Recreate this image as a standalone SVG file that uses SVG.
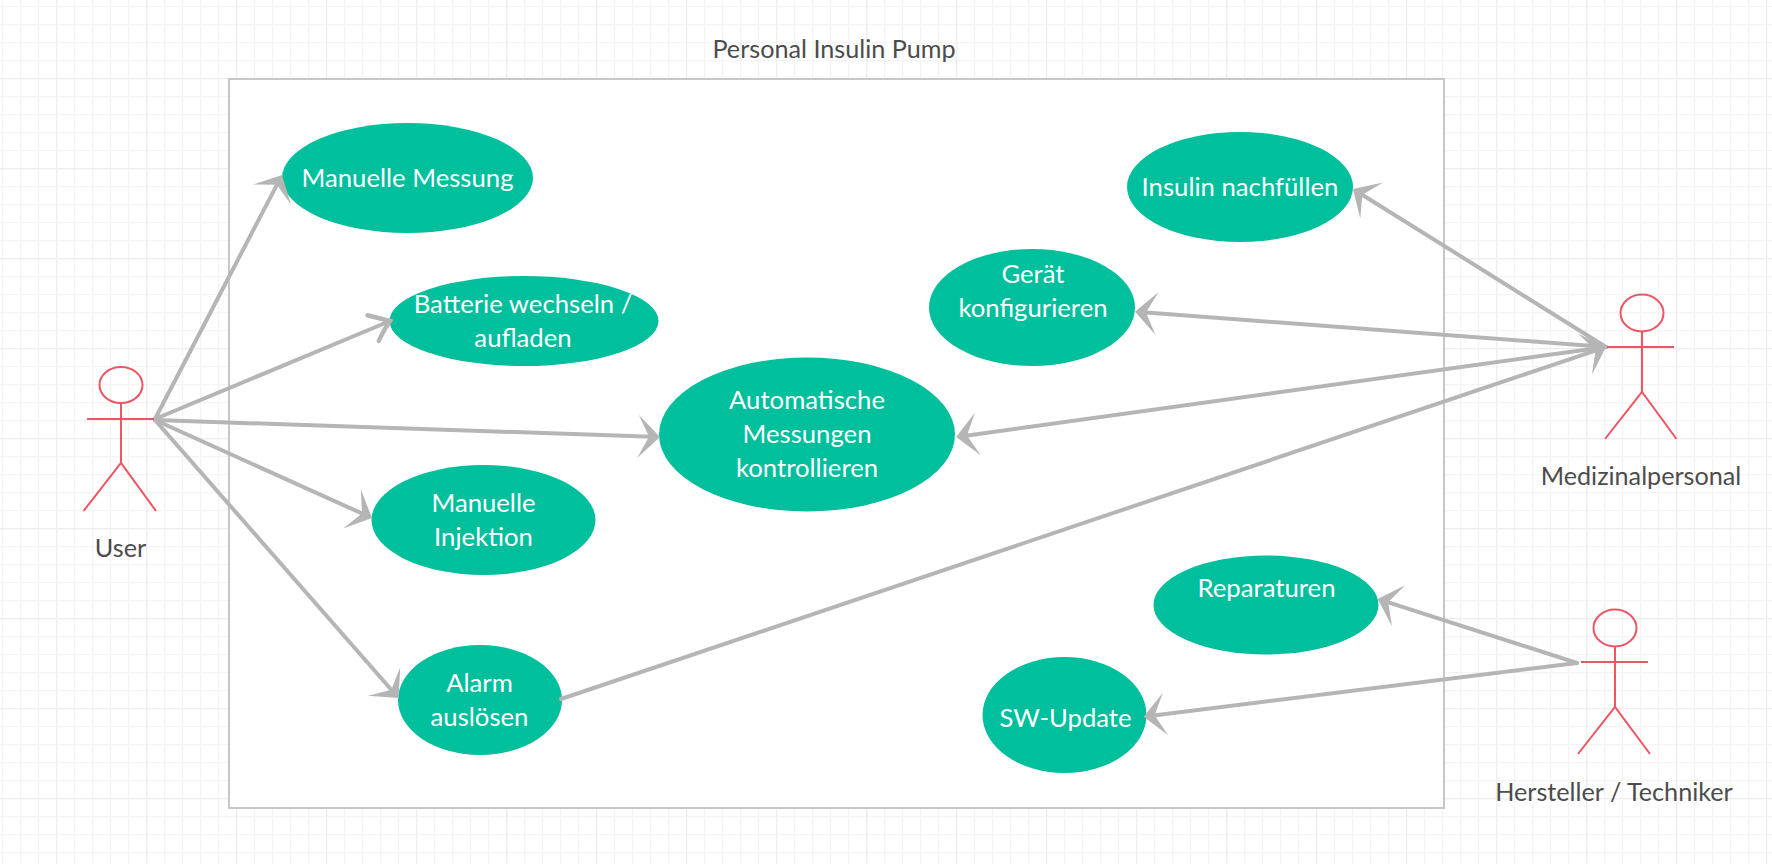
<svg xmlns="http://www.w3.org/2000/svg" width="1772" height="864" viewBox="0 0 1772 864">
<style>
text{font-family:Lato,"Open Sans","Liberation Sans",sans-serif;text-anchor:middle}
.uc{fill:#00bf9c}
.uc text{fill:#fff;font-size:25.7px}
.lbl{fill:#4c4c4c;font-size:25.2px}
.actor *{fill:none;stroke:#ed5565;stroke-width:2}
#connectors line{stroke:#b5b5b5;stroke-width:4;stroke-linecap:round}
.m{marker-end:url(#stealth)}
</style>
<defs>
<pattern id="minor" width="18" height="18" patternUnits="userSpaceOnUse" x="2" y="6"><path d="M0.5 0V18M0 0.5H18" fill="none" stroke="#f4f4f4" stroke-width="1.5"/></pattern>
<pattern id="major" width="90" height="90" patternUnits="userSpaceOnUse" x="56" y="78"><path d="M0.5 0V90M0 0.5H90" fill="none" stroke="#eee" stroke-width="1.5"/></pattern>
<marker id="stealth" markerUnits="userSpaceOnUse" markerWidth="50" markerHeight="50" refX="0" refY="0" orient="auto" overflow="visible"><path d="M8 0L-14 -21.5L-3 0L-14 21.5Z" fill="#b5b5b5"/></marker>
<marker id="curved" markerUnits="userSpaceOnUse" markerWidth="50" markerHeight="50" refX="0" refY="0" orient="auto" overflow="visible"><path d="M-18.5 -14Q-8 -6 0 0Q-8 5 -18 14" fill="none" stroke="#b5b5b5" stroke-width="4.5" stroke-linecap="round"/></marker>
</defs>
<rect id="bg" width="1772" height="864" fill="#fff"/>
<rect width="1772" height="864" fill="url(#minor)"/>
<rect width="1772" height="864" fill="url(#major)"/>
<g id="system">
<rect x="229" y="79" width="1215" height="729" fill="#fff" stroke="#c7c7c7" stroke-width="2"/>
<text class="lbl" x="834" y="58">Personal Insulin Pump</text>
</g>
<g id="uc-manuelle-messung" class="uc"><ellipse cx="407.5" cy="178" rx="125.5" ry="55"/><text x="407.5" y="187">Manuelle Messung</text></g>
<g id="uc-batterie" class="uc"><ellipse cx="524" cy="321" rx="134.5" ry="45"/><text x="523" y="313">Batterie wechseln /</text><text x="523" y="347">aufladen</text></g>
<g id="uc-automatisch" class="uc"><ellipse cx="807" cy="434.500" rx="148" ry="77"/><text x="807" y="409">Automatische</text><text x="807" y="443">Messungen</text><text x="807" y="477">kontrollieren</text></g>
<g id="uc-injektion" class="uc"><ellipse cx="483.5" cy="520" rx="112" ry="55"/><text x="483.5" y="512">Manuelle</text><text x="483.5" y="546">Injektion</text></g>
<g id="uc-alarm" class="uc"><ellipse cx="480" cy="700" rx="82" ry="55"/><text x="479.5" y="692">Alarm</text><text x="479.5" y="726">auslösen</text></g>
<g id="uc-insulin" class="uc"><ellipse cx="1240" cy="187" rx="113" ry="55"/><text x="1240" y="196">Insulin nachfüllen</text></g>
<g id="uc-geraet" class="uc"><ellipse cx="1032" cy="307.500" rx="103" ry="58.500"/><text x="1033" y="283">Gerät</text><text x="1033" y="317">konfigurieren</text></g>
<g id="uc-reparaturen" class="uc"><ellipse cx="1266" cy="605" rx="112.500" ry="49.500"/><text x="1266.500" y="597">Reparaturen</text></g>
<g id="uc-sw" class="uc"><ellipse cx="1064.500" cy="715" rx="82" ry="58"/><text x="1065.500" y="727">SW-Update</text></g>
<g id="connectors">
<line class="m" x1="155" y1="419" x2="278.3" y2="182.1"/>
<line x1="155" y1="419" x2="390" y2="321" marker-end="url(#curved)"/>
<line class="m" x1="155" y1="420" x2="652" y2="436.7"/>
<line class="m" x1="155" y1="420" x2="364.7" y2="514.7"/>
<line class="m" x1="155" y1="420" x2="393.3" y2="692"/>
<line class="m" x1="561" y1="699" x2="1598.4" y2="349.6"/>
<line class="m" x1="1606" y1="347" x2="1359.8" y2="193.2"/>
<line class="m" x1="1606" y1="347" x2="1143" y2="312.3"/>
<line class="m" x1="1606" y1="347" x2="964" y2="435.9"/>
<line class="m" x1="1577" y1="663" x2="1385.3" y2="601.4"/>
<line class="m" x1="1577" y1="663" x2="1151.6" y2="715.7"/>
</g>
<g id="actor-user">
<g class="actor"><ellipse cx="121" cy="385" rx="21.500" ry="18"/><path d="M87 419H154M121 403V463M83.500 511L121 463L156 511"/></g>
<text class="lbl" x="120.500" y="557">User</text>
</g>
<g id="actor-medizinal">
<g class="actor"><ellipse cx="1642" cy="313" rx="21.500" ry="18.500"/><path d="M1607 347H1674M1642 331.500V392M1605 439L1642 392L1676.500 439"/></g>
<text class="lbl" x="1641" y="485">Medizinalpersonal</text>
</g>
<g id="actor-hersteller">
<g class="actor"><ellipse cx="1615" cy="628" rx="21.500" ry="18.500"/><path d="M1581 662H1648M1615 646.500V707M1578 754L1615 707L1650 754"/></g>
<text class="lbl" x="1614" y="801">Hersteller / Techniker</text>
</g>
</svg>
